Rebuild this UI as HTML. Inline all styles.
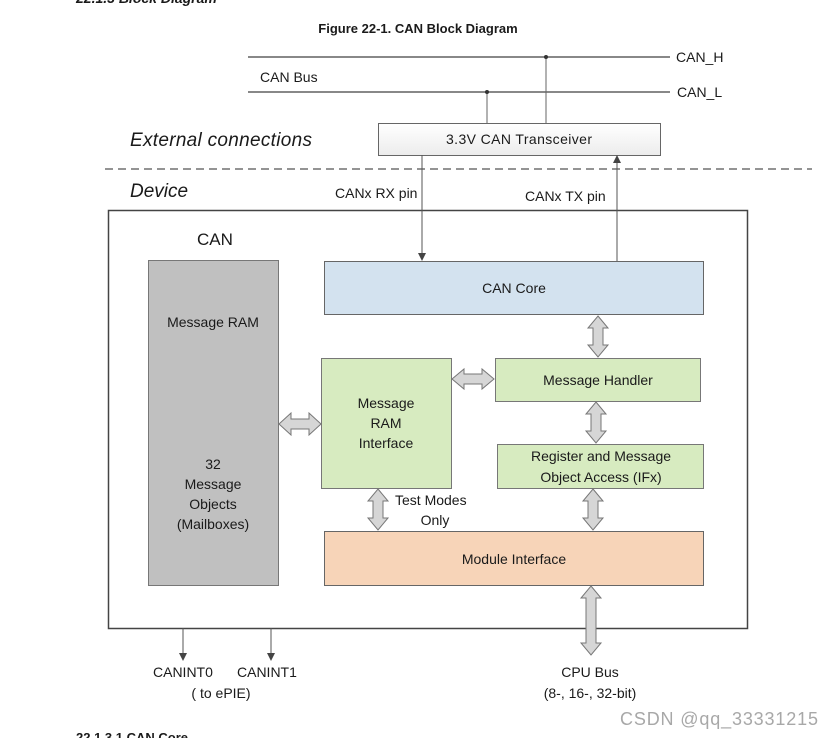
<!DOCTYPE html>
<html><head><meta charset="utf-8"><style>
html,body{margin:0;padding:0;background:#fff;}
svg{display:block;}
text{font-family:"Liberation Sans",sans-serif;fill:#1a1a1a;}
</style></head><body>
<svg width="833" height="738" viewBox="0 0 833 738" xmlns="http://www.w3.org/2000/svg">
<defs>
<linearGradient id="tg" x1="0" y1="0" x2="0" y2="1"><stop offset="0" stop-color="#ffffff"/><stop offset="1" stop-color="#ececec"/></linearGradient>
<marker id="ah" markerWidth="8" markerHeight="8" refX="7" refY="4" orient="auto" markerUnits="userSpaceOnUse"><path d="M0,0 L8,4 L0,8 z" fill="#444"/></marker>
</defs>
<text x="76" y="3" font-size="14" font-weight="bold" font-style="italic">22.1.3   Block Diagram</text>
<text x="418" y="33" font-size="13" font-weight="bold" text-anchor="middle">Figure 22-1. CAN Block Diagram</text>
<line x1="248" y1="57" x2="670" y2="57" stroke="#888" stroke-width="2"/>
<line x1="248" y1="92" x2="670" y2="92" stroke="#888" stroke-width="2"/>
<text x="676" y="62" font-size="14">CAN_H</text>
<text x="677" y="97" font-size="14">CAN_L</text>
<text x="260" y="82" font-size="14">CAN Bus</text>
<line x1="546" y1="57" x2="546" y2="123" stroke="#666" stroke-width="1"/>
<line x1="487" y1="92" x2="487" y2="123" stroke="#666" stroke-width="1"/>
<circle cx="546" cy="57" r="2" fill="#333"/>
<circle cx="487" cy="92" r="2" fill="#333"/>
<rect x="378.5" y="123.5" width="282" height="32" fill="url(#tg)" stroke="#666"/>
<text x="519" y="144" font-size="14" text-anchor="middle" textLength="146">3.3V CAN Transceiver</text>
<text x="130" y="146" font-size="19" font-style="italic" textLength="182">External connections</text>
<line x1="105" y1="169" x2="812" y2="169" stroke="#555" stroke-width="1.2" stroke-dasharray="8,5"/>
<text x="130" y="197" font-size="19" font-style="italic">Device</text>
<text x="335" y="198" font-size="14">CANx RX pin</text>
<text x="525" y="201" font-size="14">CANx TX pin</text>
<rect x="108.5" y="210.5" width="639" height="418" fill="#fff" stroke="#444" stroke-width="1.5"/>
<line x1="422" y1="155" x2="422" y2="260" stroke="#555" marker-end="url(#ah)"/>
<line x1="617" y1="261" x2="617" y2="156" stroke="#555" marker-end="url(#ah)"/>
<text x="197" y="245" font-size="17">CAN</text>
<rect x="148.5" y="260.5" width="130" height="325" fill="#c0c0c0" stroke="#777"/>
<text x="213" y="327" font-size="14" text-anchor="middle">Message RAM</text>
<text x="213" y="469" font-size="14" text-anchor="middle">32</text>
<text x="213" y="489" font-size="14" text-anchor="middle">Message</text>
<text x="213" y="509" font-size="14" text-anchor="middle">Objects</text>
<text x="213" y="529" font-size="14" text-anchor="middle">(Mailboxes)</text>
<rect x="324.5" y="261.5" width="379" height="53" fill="#d3e2ef" stroke="#666"/>
<text x="514" y="293" font-size="14" text-anchor="middle">CAN Core</text>
<rect x="321.5" y="358.5" width="130" height="130" fill="#d7ebc0" stroke="#777"/>
<text x="386" y="408" font-size="14" text-anchor="middle">Message</text>
<text x="386" y="428" font-size="14" text-anchor="middle">RAM</text>
<text x="386" y="448" font-size="14" text-anchor="middle">Interface</text>
<rect x="495.5" y="358.5" width="205" height="43" fill="#d7ebc0" stroke="#777"/>
<text x="598" y="385" font-size="14" text-anchor="middle">Message Handler</text>
<rect x="497.5" y="444.5" width="206" height="44" fill="#d7ebc0" stroke="#777"/>
<text x="601" y="461" font-size="14" text-anchor="middle">Register and Message</text>
<text x="601" y="482" font-size="14" text-anchor="middle">Object Access (IFx)</text>
<rect x="324.5" y="531.5" width="379" height="54" fill="#f7d4b8" stroke="#666"/>
<text x="514" y="564" font-size="14" text-anchor="middle">Module Interface</text>
<text x="395" y="505" font-size="14">Test Modes</text>
<text x="435" y="525" font-size="14" text-anchor="middle">Only</text>
<g fill="#d6d6d6" stroke="#777" stroke-width="1">
<polygon points="598,316 608,328 603,328 603,345 608,345 598,357 588,345 593,345 593,328 588,328"/>
<polygon points="596,402 606,414 601,414 601,431 606,431 596,443 586,431 591,431 591,414 586,414"/>
<polygon points="593,489 603,501 598,501 598,518 603,518 593,530 583,518 588,518 588,501 583,501"/>
<polygon points="378,489 388,501 383,501 383,518 388,518 378,530 368,518 373,518 373,501 368,501"/>
<polygon points="591,586 601,598 596,598 596,643 601,643 591,655 581,643 586,643 586,598 581,598"/>
<polygon points="279,424 291,413 291,419 309,419 309,413 321,424 309,435 309,429 291,429 291,435"/>
<polygon points="452,379 464,369 464,374 482,374 482,369 494,379 482,389 482,384 464,384 464,389"/>
</g>
<line x1="183" y1="628" x2="183" y2="660" stroke="#555" marker-end="url(#ah)"/>
<line x1="271" y1="628" x2="271" y2="660" stroke="#555" marker-end="url(#ah)"/>
<text x="153" y="677" font-size="14">CANINT0</text>
<text x="237" y="677" font-size="14">CANINT1</text>
<text x="221" y="698" font-size="14" text-anchor="middle">( to ePIE)</text>
<text x="590" y="677" font-size="14" text-anchor="middle">CPU Bus</text>
<text x="590" y="698" font-size="14" text-anchor="middle">(8-, 16-, 32-bit)</text>
<text x="620" y="725" font-size="18" textLength="198" style="fill:#a8a8a8">CSDN @qq_33331215</text>
<text x="76" y="742" font-size="13" font-weight="bold">22.1.3.1   CAN Core</text>
</svg>
</body></html>
